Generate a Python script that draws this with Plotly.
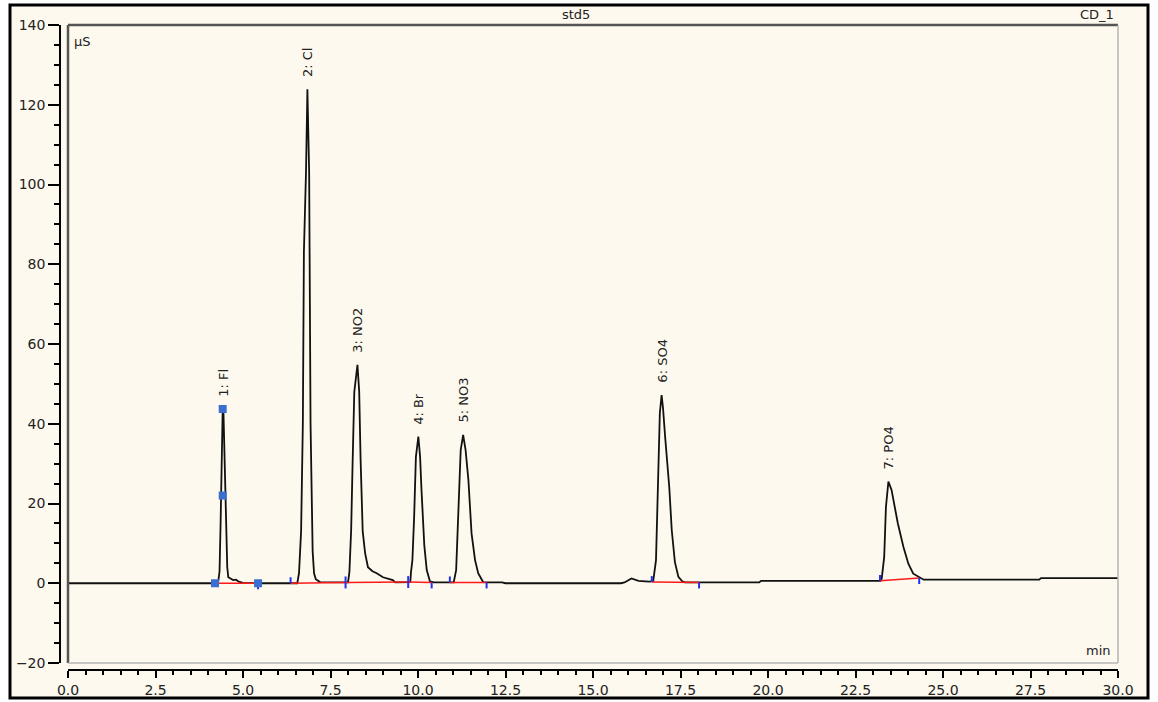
import plotly.graph_objects as go

# ---------------- data ----------------
time_min = [0.0, 4.25, 4.29, 4.33, 4.36, 4.38, 4.40, 4.42, 4.44, 4.46, 4.48, 4.50, 4.52, 4.55, 4.58,
            4.65, 4.72, 4.80, 4.88, 5.0, 5.5,
            6.55, 6.60, 6.66, 6.71, 6.74, 6.80, 6.84, 6.87, 6.89, 6.93, 6.96, 6.99, 7.03, 7.08, 7.20,
            8.00, 8.04, 8.09, 8.13, 8.18, 8.27, 8.32, 8.36, 8.42, 8.49, 8.57, 8.70, 8.82, 9.0, 9.28, 9.35,
            9.78, 9.80, 9.84, 9.89, 9.94, 10.01, 10.06, 10.10, 10.18, 10.25, 10.34, 10.45,
            11.02, 11.09, 11.15, 11.22, 11.29, 11.36, 11.44, 11.53, 11.63, 11.72, 11.86, 12.0, 12.4, 12.5,
            15.8, 15.9, 16.1, 16.3, 16.6, 16.72, 16.80, 16.85, 16.91, 16.96, 17.00, 17.06, 17.18, 17.25,
            17.34, 17.44, 17.55, 17.63, 19.75, 19.80,
            23.22, 23.25, 23.32, 23.37, 23.44, 23.53, 23.71, 23.87, 24.01, 24.15, 24.34, 24.45,
            27.75, 27.80, 30.0]
signal_uS = [0.0, 0.0, 0.2, 3.0, 15.0, 28.0, 38.0, 43.7, 43.5, 35.0, 25.0, 17.0, 9.0, 4.0, 1.5,
             1.2, 0.8, 0.9, 0.4, 0.1, 0.0,
             0.0, 2.5, 13.0, 40.0, 83.0, 103.0, 123.9, 115.0, 103.0, 40.0, 18.0, 8.0, 2.5, 1.0, 0.3,
             0.2, 2.8, 13.3, 29.6, 48.0, 54.8, 48.0, 31.0, 13.0, 7.5, 4.0, 3.0, 2.5, 1.5, 0.8, 0.2,
             0.3, 2.8, 5.8, 16.7, 31.7, 36.8, 31.7, 23.4, 9.5, 3.3, 0.5, 0.2,
             0.2, 3.3, 15.8, 33.4, 37.2, 33.4, 25.9, 12.5, 5.8, 2.5, 0.3, 0.2, 0.2, 0.0,
             0.0, 0.2, 1.2, 0.6, 0.4, 0.5, 5.8, 22.0, 42.7, 47.2, 44.0, 36.8, 24.0, 13.3,
             5.3, 1.6, 0.5, 0.2, 0.2, 0.6,
             0.6, 1.2, 6.6, 19.2, 25.5, 23.4, 15.0, 9.1, 4.9, 2.4, 1.4, 0.9,
             0.9, 1.3, 1.3]

peak_names = ["1: Fl", "2: Cl", "3: NO2", "4: Br", "5: NO3", "6: SO4", "7: PO4"]
peak_rt = [4.42, 6.84, 8.27, 10.01, 11.29, 16.96, 23.44]
peak_height = [43.7, 123.9, 54.8, 36.8, 37.2, 47.2, 25.5]

# integration baselines (start time, end time, start value, end value)
base_start = [4.20, 6.36, 7.93, 9.72, 10.91, 16.68, 23.20]
base_end = [5.43, 7.93, 9.72, 10.39, 11.96, 18.03, 24.32]
base_v0 = [0.0, 0.0, 0.2, 0.3, 0.2, 0.3, 0.6]
base_v1 = [0.0, 0.2, 0.3, 0.2, 0.2, 0.2, 1.3]

# blue square markers on peak 1
sq_t = [4.20, 4.42, 4.42, 5.43]
sq_v = [0.0, 43.7, 22.0, 0.0]

x_ticks = [0.0, 2.5, 5.0, 7.5, 10.0, 12.5, 15.0, 17.5, 20.0, 22.5, 25.0, 27.5, 30.0]
y_ticks = [-20, 0, 20, 40, 60, 80, 100, 120, 140]

# ---------------- figure ----------------
W, H = 1158, 702
ML, MR, MT, MB = 60, 40, 25, 32
PW, PH = W - ML - MR, H - MT - MB


def px2x(px):
    return (px - ML) / PW


def py2y(py):
    return (H - MB - py) / PH


CREAM = "#FDF9EE"
fig = go.Figure()

fig.add_trace(go.Scatter(x=time_min, y=signal_uS, mode="lines",
                         line=dict(color="#111111", width=1.8), hoverinfo="skip"))

# red integration baselines
bx, by = [], []
for s, e, v0, v1 in zip(base_start, base_end, base_v0, base_v1):
    bx += [s, e, None]
    by += [v0, v1, None]
fig.add_trace(go.Scatter(x=bx, y=by, mode="lines", line=dict(color="#ff1a1a", width=1.5),
                         hoverinfo="skip"))

# blue integration delimiters
TK = 1.5
tx, ty = [], []
for s, v0 in zip(base_start[1:], base_v0[1:]):
    tx += [s, s, None]
    ty += [v0, v0 + TK, None]
for e, v1 in zip(base_end, base_v1):
    tx += [e, e, None]
    ty += [v1, v1 - TK, None]
fig.add_trace(go.Scatter(x=tx, y=ty, mode="lines", line=dict(color="#2233ee", width=2),
                         hoverinfo="skip"))

fig.add_trace(go.Scatter(x=sq_t, y=sq_v, mode="markers",
                         marker=dict(symbol="square", size=8, color="#3a6fd0"),
                         hoverinfo="skip"))

# peak labels
for name, t, v in zip(peak_names, peak_rt, peak_height):
    fig.add_annotation(x=t, y=v, text=name, textangle=-90, showarrow=False,
                       yanchor="bottom", xanchor="center", yshift=10,
                       font=dict(family="DejaVu Sans", size=13, color="#222"))

shapes = [
    dict(type="rect", xref="paper", yref="paper", x0=px2x(10), x1=px2x(1148),
         y0=py2y(698), y1=py2y(5), fillcolor=CREAM, line=dict(width=0), layer="below"),
    dict(type="rect", xref="paper", yref="paper", x0=px2x(10), x1=px2x(1148),
         y0=py2y(698), y1=py2y(5), line=dict(color="black", width=3), layer="above"),
    # inner plot box
    dict(type="line", xref="x domain", yref="y domain", x0=0, x1=0, y0=0, y1=1,
         line=dict(color="#555", width=2.5), layer="above"),
    dict(type="line", xref="x domain", yref="y domain", x0=0, x1=1, y0=1, y1=1,
         line=dict(color="#555", width=2.5), layer="above"),
    dict(type="line", xref="x domain", yref="y domain", x0=1, x1=1, y0=0, y1=1,
         line=dict(color="#b5b5b5", width=1.5), layer="above"),
    dict(type="line", xref="x domain", yref="y domain", x0=0, x1=1, y0=0, y1=0,
         line=dict(color="#b5b5b5", width=1.5), layer="above"),
]

lblfont = dict(family="DejaVu Sans", size=13, color="#222")
fig.add_annotation(xref="paper", yref="paper", x=px2x(576), y=py2y(14), text="std5",
                   xanchor="center", yanchor="middle", showarrow=False, font=lblfont)
fig.add_annotation(xref="paper", yref="paper", x=px2x(1116), y=py2y(14), text="CD_1",
                   xanchor="right", yanchor="middle", showarrow=False, font=lblfont)
fig.add_annotation(xref="paper", yref="paper", x=px2x(72), y=py2y(41), text="µS",
                   xanchor="left", yanchor="middle", showarrow=False, font=lblfont)
fig.add_annotation(xref="paper", yref="paper", x=px2x(1113), y=py2y(650), text="min",
                   xanchor="right", yanchor="middle", showarrow=False, font=lblfont)

tickfont = dict(family="DejaVu Sans", size=14, color="#222")
fig.update_layout(
    width=W, height=H,
    margin=dict(l=ML, r=MR, t=MT, b=MB, pad=0, autoexpand=False),
    paper_bgcolor="white", plot_bgcolor=CREAM,
    showlegend=False,
    shapes=shapes,
    xaxis=dict(domain=[8 / PW, 1], range=[0, 30], anchor="free", position=0, automargin=False,
               tickvals=x_ticks, ticktext=[f"{v:.1f}" for v in x_ticks],
               ticks="outside", ticklen=7, tickwidth=1.5, tickcolor="black",
               showline=True, linecolor="black", linewidth=1.5,
               minor=dict(dtick=0.5, ticks="outside", ticklen=4, tickcolor="black", tickwidth=1.5),
               showgrid=False, zeroline=False, tickfont=tickfont),
    yaxis=dict(domain=[7 / PH, 1], range=[-20, 140], anchor="free", position=0, automargin=False,
               tickvals=y_ticks, ticks="outside", ticklen=11, tickwidth=1.5, tickcolor="black",
               showline=True, linecolor="black", linewidth=1.5,
               minor=dict(dtick=5, ticks="outside", ticklen=5, tickcolor="black", tickwidth=1.5),
               showgrid=False, zeroline=False, tickfont=tickfont),
)

fig.write_html("out.html")
